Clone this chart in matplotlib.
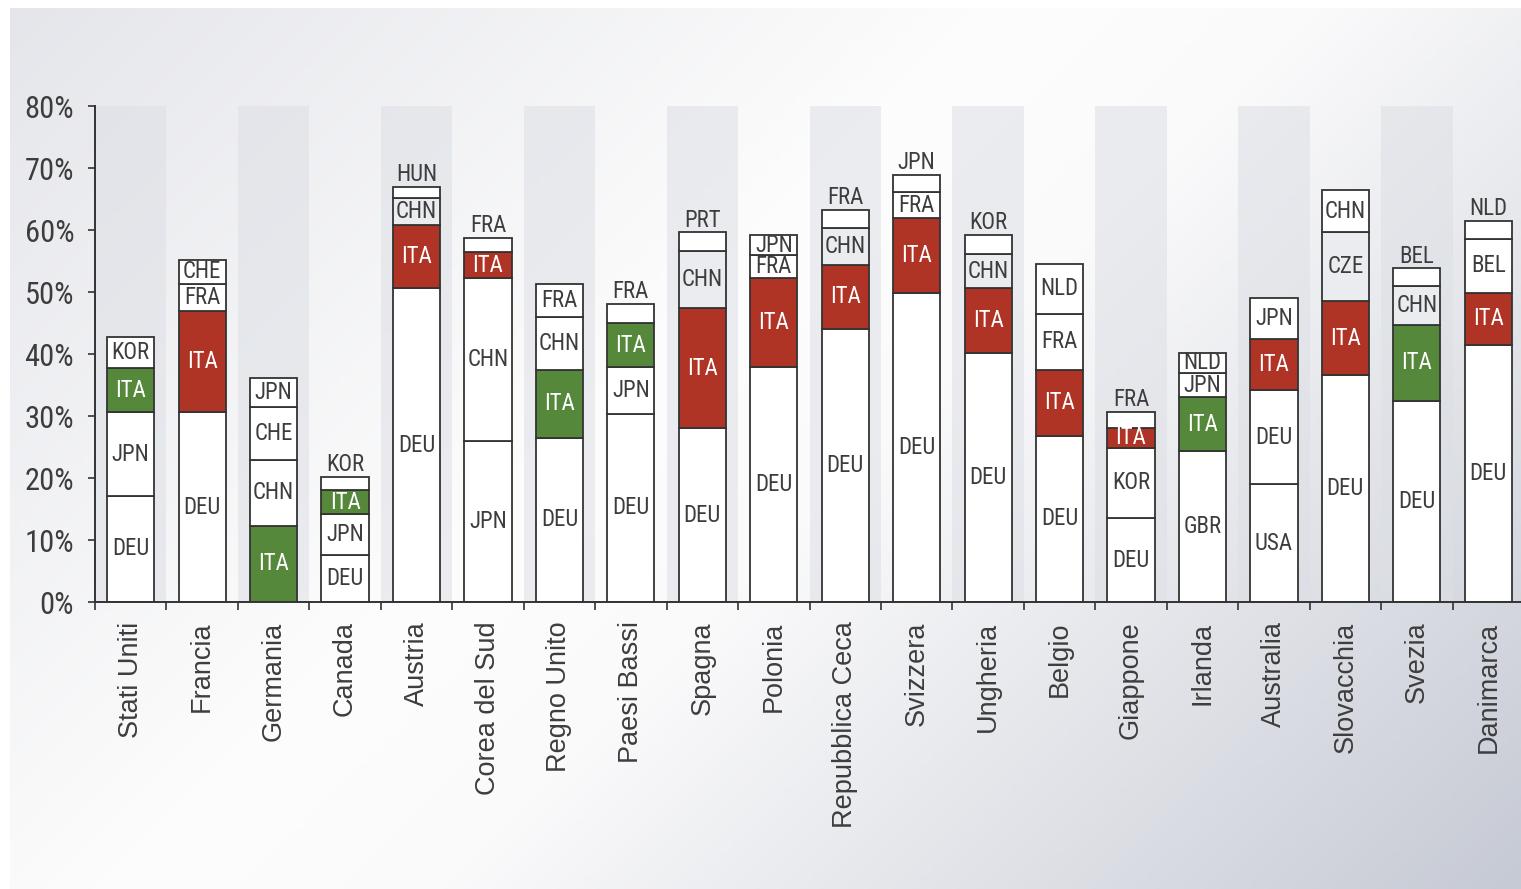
import numpy as np
import matplotlib
matplotlib.use("Agg")
import matplotlib.pyplot as plt
from matplotlib.colors import LinearSegmentedColormap
from matplotlib import font_manager as fm

# ---------------- data ----------------
countries = ["Stati Uniti", "Francia", "Germania", "Canada", "Austria",
             "Corea del Sud", "Regno Unito", "Paesi Bassi", "Spagna", "Polonia",
             "Repubblica Ceca", "Svizzera", "Ungheria", "Belgio", "Giappone",
             "Irlanda", "Australia", "Slovacchia", "Svezia", "Danimarca"]

# segment labels from bottom to top
seg_labels = [
    ["DEU", "JPN", "ITA", "KOR"],
    ["DEU", "ITA", "FRA", "CHE"],
    ["ITA", "CHN", "CHE", "JPN"],
    ["DEU", "JPN", "ITA", "KOR"],
    ["DEU", "ITA", "CHN", "HUN"],
    ["JPN", "CHN", "ITA", "FRA"],
    ["DEU", "ITA", "CHN", "FRA"],
    ["DEU", "JPN", "ITA", "FRA"],
    ["DEU", "ITA", "CHN", "PRT"],
    ["DEU", "ITA", "FRA", "JPN"],
    ["DEU", "ITA", "CHN", "FRA"],
    ["DEU", "ITA", "FRA", "JPN"],
    ["DEU", "ITA", "CHN", "KOR"],
    ["DEU", "ITA", "FRA", "NLD"],
    ["DEU", "KOR", "ITA", "FRA"],
    ["GBR", "ITA", "JPN", "NLD"],
    ["USA", "DEU", "ITA", "JPN"],
    ["DEU", "ITA", "CZE", "CHN"],
    ["DEU", "ITA", "CHN", "BEL"],
    ["DEU", "ITA", "BEL", "NLD"],
]

# cumulative shares (%) at the top of each segment
seg_tops = [
    [17.1, 30.6, 37.7, 42.7],
    [30.6, 47.0, 51.3, 55.2],
    [12.3, 22.9, 31.5, 36.1],
    [7.6, 14.2, 18.0, 20.1],
    [50.6, 60.8, 65.1, 66.9],
    [26.0, 52.3, 56.4, 58.7],
    [26.5, 37.4, 45.9, 51.3],
    [30.4, 37.9, 45.0, 48.1],
    [28.0, 47.4, 56.6, 59.6],
    [37.9, 52.3, 55.9, 59.2],
    [44.1, 54.4, 60.4, 63.3],
    [49.9, 61.9, 66.1, 68.9],
    [40.2, 50.6, 56.1, 59.2],
    [26.8, 37.5, 46.5, 54.5],
    [13.5, 24.9, 28.1, 30.6],
    [24.3, 33.1, 36.9, 40.2],
    [19.0, 34.2, 42.4, 49.1],
    [36.6, 48.5, 59.6, 66.4],
    [32.5, 44.7, 51.0, 53.8],
    [41.4, 49.9, 58.5, 61.4],
]

# colour group of the Italian segment per country
ita_group = ["green", "red", "green", "green", "red",
             "red", "green", "green", "red", "red",
             "red", "red", "red", "red", "red",
             "green", "red", "red", "green", "red"]

# segments drawn with a light-grey fill (country, label)
grey_segments = {("Austria", "CHN"), ("Spagna", "CHN"), ("Repubblica Ceca", "CHN"),
                 ("Ungheria", "CHN"), ("Svezia", "CHN"), ("Slovacchia", "CZE")}

yticks = [0, 10, 20, 30, 40, 50, 60, 70, 80]

# ---------------- style ----------------
W, H = 1521, 889
RED = "#b03426"
GREEN = "#55883b"
TXT = "#3d3d3d"
EDGE = "#333333"

def pick_font(cands):
    for c in cands:
        try:
            fm.findfont(fm.FontProperties(family=c), fallback_to_default=False)
            return c
        except Exception:
            pass
    return "DejaVu Sans"

cond = pick_font(["Roboto Condensed", "Liberation Sans Narrow", "Roboto", "Liberation Sans"])
sans = pick_font(["Liberation Sans", "Roboto"])

fig = plt.figure(figsize=(W / 100, H / 100), dpi=100)
fig.patch.set_facecolor("white")

# background gradient
bg = fig.add_axes([10 / W, 0, 1 - 10 / W, (H - 8) / H])
bg.set_axis_off()
gx = np.linspace(0, 1, 400)
gy = np.linspace(0, 1, 300)
X, Y = np.meshgrid(gx, gy)
T = (X * W + Y * H) / (W + H)
cmap = LinearSegmentedColormap.from_list(
    "bgc", [(0.0, "#e5e6eb"), (0.42, "#fdfdfd"), (0.55, "#fafafb"), (1.0, "#c6cad4")])
bg.imshow(T, cmap=cmap, aspect="auto", origin="upper", extent=[0, 1, 0, 1], vmin=0, vmax=1)
bg.set_xlim(0, 1)
bg.set_ylim(0, 1)

# main axes
left = 95 / W
right_px = 1524
bottom = (H - 602) / H
top = (H - 106) / H
ax = fig.add_axes([left, bottom, (right_px - 95) / W, top - bottom])
ax.set_facecolor("none")
n = len(countries)
ax.set_xlim(-0.5, n - 0.5)
ax.set_ylim(0, 80)

x = np.arange(n)
# alternating bands
for i in range(0, n, 2):
    ax.axvspan(i - 0.5, i + 0.5, ymin=0, ymax=1, color="#dcdfe5", alpha=0.55, lw=0, zorder=0)

bw = 0.66
for i, c in enumerate(countries):
    tops = seg_tops[i]
    bottoms = [0] + tops[:-1]
    heights = np.diff([0] + tops)
    for j, lab in enumerate(seg_labels[i]):
        if lab == "ITA":
            fc = GREEN if ita_group[i] == "green" else RED
            tc = "white"
        elif (c, lab) in grey_segments:
            fc = "#eaecf0"
            tc = TXT
        else:
            fc = "white"
            tc = TXT
        ax.bar(x[i], heights[j], bottom=bottoms[j], width=bw, color=fc,
               edgecolor=EDGE, linewidth=1.3, zorder=2)
        is_top = j == len(seg_labels[i]) - 1
        if is_top and heights[j] < 3.2:
            ax.text(x[i], tops[j] + 0.15, lab, ha="center", va="bottom",
                    fontsize=16.5, color=TXT, family=cond, zorder=3)
        else:
            ax.text(x[i], bottoms[j] + heights[j] / 2, lab, ha="center", va="center",
                    fontsize=16.5, color=tc, family=cond, zorder=3)

ax.set_yticks(yticks)
ax.set_yticklabels([f"{v}%" for v in yticks], family=cond, fontsize=22, color=TXT)
ax.set_xticks(np.arange(n + 1) - 0.5, minor=False)
ax.set_xticklabels([])
ax.set_xticks(x, minor=True)
ax.set_xticklabels(countries, minor=True, rotation=90, family=sans, fontsize=19.5,
                   color=TXT, va="top", ha="center")
ax.tick_params(axis="x", which="major", length=6, width=1.2, color=EDGE)
ax.tick_params(axis="x", which="minor", length=0, pad=14)
ax.tick_params(axis="y", length=5, width=1.2, color=EDGE, pad=10)
for s in ["top", "right"]:
    ax.spines[s].set_visible(False)
for s in ["left", "bottom"]:
    ax.spines[s].set_color(EDGE)
    ax.spines[s].set_linewidth(1.4)
    ax.spines[s].set_zorder(4)

fig.savefig("out.png", dpi=100)
